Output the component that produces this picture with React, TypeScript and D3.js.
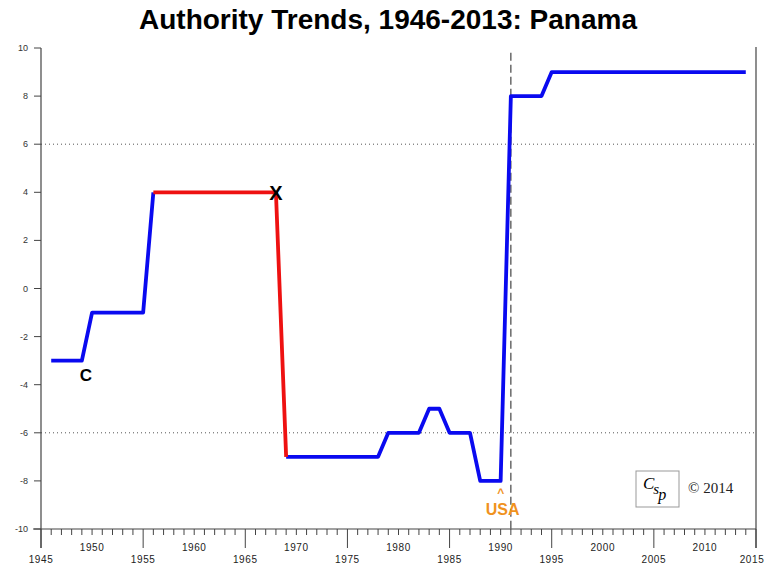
import React from 'react';
import * as d3 from 'd3';

const TITLE = 'Authority Trends, 1946-2013: Panama';
const startYear = 1946;
const polity = [
  -3, -3, -3, -3,
  -1, -1, -1, -1, -1, -1,
  4, 4, 4, 4, 4, 4, 4, 4, 4, 4, 4, 4, 4,
  -7, -7, -7, -7, -7, -7, -7, -7, -7, -7,
  -6, -6, -6, -6,
  -5, -5,
  -6, -6, -6,
  -8, -8, -8,
  8, 8, 8, 8,
  9, 9, 9, 9, 9, 9, 9, 9, 9, 9, 9, 9, 9, 9, 9, 9, 9, 9, 9, 9,
];
const redPeriod = [1956, 1969];
const yTicks = [-10, -8, -6, -4, -2, 0, 2, 4, 6, 8, 10];
const gridValues = [-6, 6];
const events = [
  { label: 'C', year: 1949.4, value: -3.6, size: 17 },
  { label: 'X', year: 1968, value: 4, size: 20 },
];
const intervention = { label: 'USA', year: 1990, line: 1991 };

export default function App() {
  const W = 765, H = 565;
  const x = d3.scaleLinear().domain([1945, 2015]).range([41, 756]);
  const y = d3.scaleLinear().domain([-10, 10]).range([529, 48]);
  const data = polity.map((v, i) => ({ year: startYear + i, value: v }));
  const line = d3.line<any>().x(d => x(d.year)).y(d => y(d.value));
  const blue1 = data.filter(d => d.year <= redPeriod[0]);
  const red = data.filter(d => d.year >= redPeriod[0] && d.year <= redPeriod[1]);
  const blue2 = data.filter(d => d.year >= redPeriod[1]);
  const years = d3.range(1945, 2016);
  const font = 'Arial, "Liberation Sans", sans-serif';
  const serif = '"Liberation Serif", "Times New Roman", serif';
  return (
    <svg width={W} height={H} style={{ position: 'absolute', left: 0, top: 0, background: '#fff' }}>
      <text x={388} y={29} textAnchor="middle" fontFamily={font} fontWeight="bold" fontSize={28}>{TITLE}</text>
      {/* grid */}
      {gridValues.map(v => (
        <line key={v} x1={x(1945)} x2={x(2015)} y1={y(v)} y2={y(v)} stroke="#555" strokeWidth={1} strokeDasharray="1,3" />
      ))}
      {/* axes */}
      <line x1={x(1945)} x2={x(1945)} y1={y(10)} y2={548} stroke="#444" strokeWidth={1.2} />
      <line x1={x(2015)} x2={x(2015)} y1={y(10) - 1} y2={548} stroke="#444" strokeWidth={1.2} />
      <line x1={33} x2={x(2015)} y1={y(-10)} y2={y(-10)} stroke="#444" strokeWidth={1.2} />
      {yTicks.map(v => (
        <g key={v}>
          <line x1={34} x2={x(1945)} y1={y(v)} y2={y(v)} stroke="#444" />
          <text x={28} y={y(v) + 3} textAnchor="end" fontFamily={font} fontSize={9} fill="#333">{v}</text>
        </g>
      ))}
      {years.map(yr => {
        const major5 = yr % 10 === 5;
        return (
          <line key={yr} x1={x(yr)} x2={x(yr)} y1={y(-10)} y2={major5 ? 548 : y(-10) + 6} stroke="#444" />
        );
      })}
      {years.filter(yr => yr % 5 === 0).map(yr => (
        <text key={yr} x={Math.min(x(yr), W - 13)} y={yr % 10 === 0 ? 551 : 563} textAnchor="middle" fontFamily={font} fontSize={10} letterSpacing={0.6} fill="#222">{yr}</text>
      ))}
      {/* intervention line */}
      <line x1={x(intervention.line)} x2={x(intervention.line)} y1={y(9.8)} y2={y(-10)} stroke="#444" strokeWidth={1.2} strokeDasharray="8,4" />
      {/* series */}
      <path d={line(blue1) || ''} fill="none" stroke="#0a0af0" strokeWidth={3.8} strokeLinejoin="round" />
      <path d={line(blue2) || ''} fill="none" stroke="#0a0af0" strokeWidth={3.8} strokeLinejoin="round" />
      <path d={line(red) || ''} fill="none" stroke="#ee1111" strokeWidth={3.8} strokeLinejoin="round" />
      {events.map(e => (
        <text key={e.label} x={x(e.year)} y={y(e.value) + e.size * 0.36} textAnchor="middle" fontFamily={font} fontWeight="bold" fontSize={e.size}>{e.label}</text>
      ))}
      <text x={x(intervention.year)} y={497} textAnchor="middle" fontFamily={font} fontWeight="bold" fontSize={12} fill="#f0921e">^</text>
      <text x={x(intervention.year) + 2} y={515} textAnchor="middle" fontFamily={font} fontWeight="bold" fontSize={16} fill="#f0921e">{intervention.label}</text>
      {/* logo */}
      <rect x={636} y={471} width={43} height={36} fill="#fff" stroke="#999" strokeWidth={1} />
      <text x={643} y={489} fontFamily={serif} fontStyle="italic" fontSize={17}>
        <tspan>C</tspan>
        <tspan dx={-1} dy={5} fontSize={15}>s</tspan>
        <tspan dx={-1} dy={6} fontSize={16}>p</tspan>
      </text>
      <text x={688} y={493} fontFamily={serif} fontSize={15} fill="#222">© 2014</text>
    </svg>
  );
}
